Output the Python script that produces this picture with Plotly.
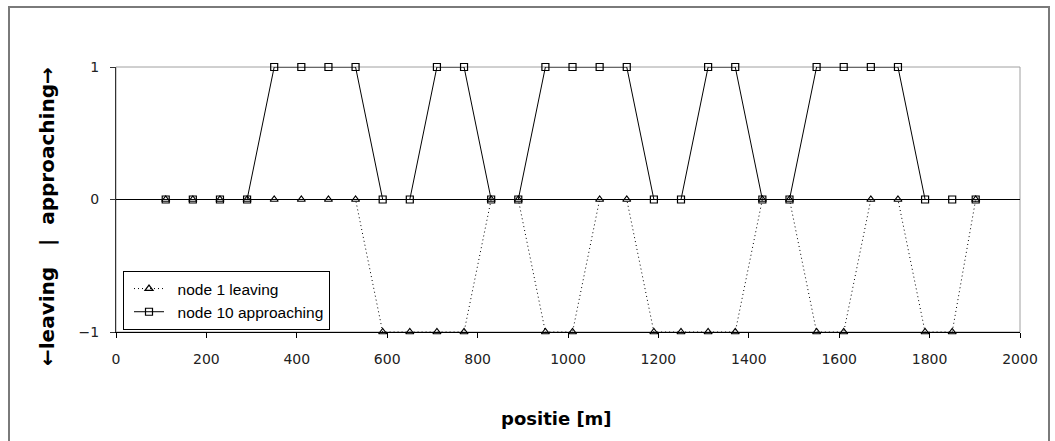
import plotly.graph_objects as go

positions = [110, 170, 230, 290, 350, 410, 470, 530, 590, 650, 710, 770, 830, 890,
             950, 1010, 1070, 1130, 1190, 1250, 1310, 1370, 1430, 1490, 1550, 1610,
             1670, 1730, 1790, 1850, 1902]
node1_leaving = [0, 0, 0, 0, 0, 0, 0, 0, -1, -1, -1, -1, 0, 0, -1, -1, 0, 0, -1, -1,
                 -1, -1, 0, 0, -1, -1, 0, 0, -1, -1, 0]
node10_approaching = [0, 0, 0, 0, 1, 1, 1, 1, 0, 0, 1, 1, 0, 0, 1, 1, 1, 1, 0, 0,
                      1, 1, 0, 0, 1, 1, 1, 1, 0, 0, 0]
x_ticks = [0, 200, 400, 600, 800, 1000, 1200, 1400, 1600, 1800, 2000]
y_ticks = [-1, 0, 1]

W, H = 1055, 441
L, R, T, B = 116, 35, 67, 109
pw, ph = W - L - R, H - T - B

fig = go.Figure()
fig.add_trace(go.Scatter(
    x=positions, y=node1_leaving, name="\u00a0\u00a0node 1 leaving", mode="lines+markers",
    line=dict(color="black", width=1, dash="1px,3px"),
    marker=dict(symbol="triangle-up-open", size=7, color="black", line=dict(width=1.2)),
    cliponaxis=False))
fig.add_trace(go.Scatter(
    x=positions, y=node10_approaching, name="\u00a0\u00a0node 10 approaching", mode="lines+markers",
    line=dict(color="black", width=1),
    marker=dict(symbol="square-open", size=7, color="black", line=dict(width=1.2)),
    cliponaxis=False))

tickfont = dict(family="DejaVu Sans, sans-serif", size=14, color="#222")
fig.update_xaxes(range=[0, 2000], tickvals=x_ticks, ticks="outside", ticklen=5,
                 tickcolor="black", showline=True, linecolor="black", linewidth=1,
                 showgrid=False, zeroline=False, tickfont=tickfont, ticklabelstandoff=9)
fig.update_yaxes(range=[-1, 1], tickvals=y_ticks, ticks="outside", ticklen=5,
                 tickcolor="#333", showline=True, linecolor="#333", linewidth=1,
                 showgrid=False, zeroline=True, zerolinecolor="black", zerolinewidth=1,
                 tickfont=tickfont, ticklabelstandoff=8)

def px_x(p):
    return (p - L) / pw

def px_y(p):
    return (H - B - p) / ph

shapes = [
    dict(type="rect", xref="paper", yref="paper", x0=0, x1=1, y0=0, y1=1,
         line=dict(color="#a0a0a0", width=1), layer="below"),
    dict(type="rect", xref="paper", yref="paper", x0=px_x(9), x1=px_x(1049),
         y0=px_y(446), y1=px_y(7), line=dict(color="#7a7a7a", width=2), layer="below"),
]

annotations = [
    dict(text="<b>←leaving\u00a0\u00a0\u00a0|\u00a0\u00a0approaching→</b>", textangle=-90,
         xref="paper", yref="paper", x=px_x(47), y=px_y(217), showarrow=False,
         xanchor="center", yanchor="middle",
         font=dict(family="DejaVu Sans, sans-serif", size=20, color="black")),
    dict(text="<b>positie [m]</b>", xref="paper", yref="paper", x=px_x(556), y=px_y(418),
         showarrow=False, xanchor="center", yanchor="middle",
         font=dict(family="DejaVu Sans, sans-serif", size=18, color="black")),
]

fig.update_layout(
    width=W, height=H, margin=dict(l=L, r=R, t=T, b=B),
    plot_bgcolor="white", paper_bgcolor="white",
    shapes=shapes, annotations=annotations,
    legend=dict(x=px_x(123), y=px_y(271), xanchor="left", yanchor="top",
                bgcolor="white", bordercolor="black", borderwidth=1,
                font=dict(family="Liberation Sans, Arial, sans-serif", size=15.5, color="black"),
                tracegroupgap=0, indentation=5),
    showlegend=True,
)

fig.write_html("out.html")
